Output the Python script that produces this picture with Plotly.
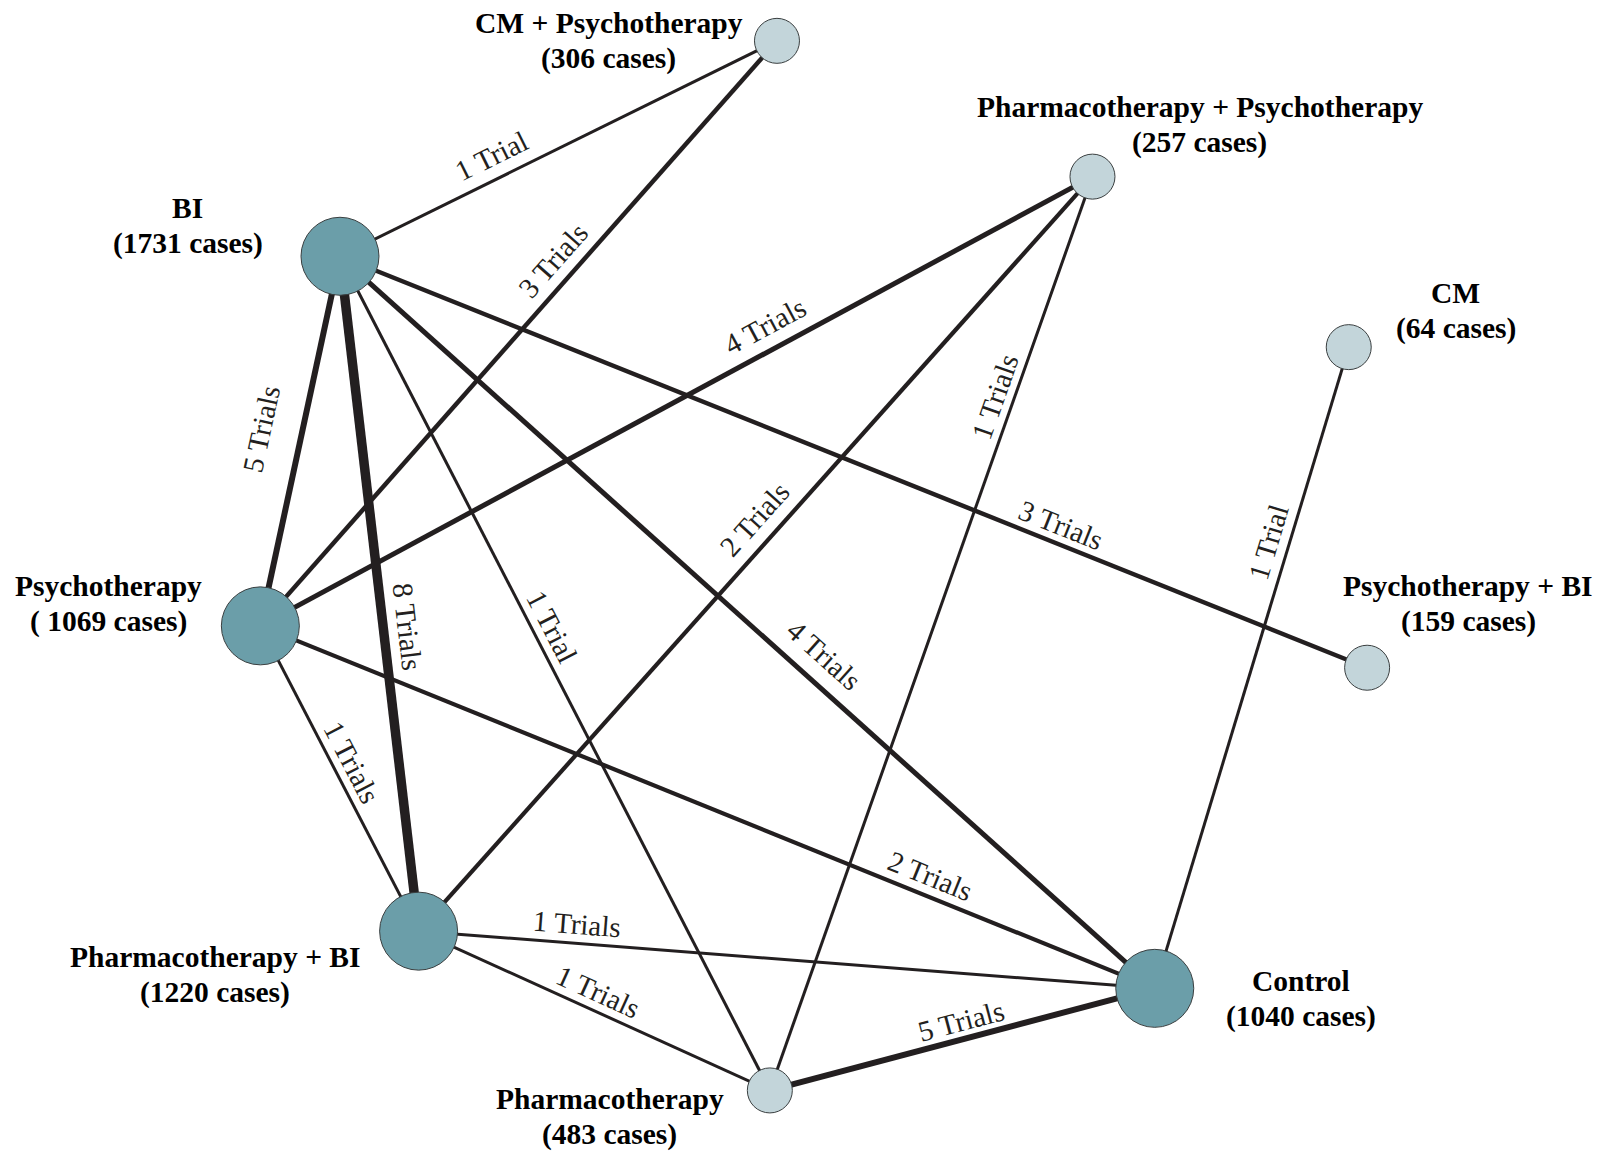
import math
import plotly.graph_objects as go

# ---------------- data ----------------
treatments = ["BI", "Psychotherapy", "Pharmacotherapy + BI", "Pharmacotherapy", "Control",
              "CM + Psychotherapy", "Pharmacotherapy + Psychotherapy", "CM", "Psychotherapy + BI"]
cases = [1731, 1069, 1220, 483, 1040, 306, 257, 64, 159]
case_labels = ["(1731 cases)", "( 1069 cases)", "(1220 cases)", "(483 cases)", "(1040 cases)",
               "(306 cases)", "(257 cases)", "(64 cases)", "(159 cases)"]

edge_from = ["BI", "Psychotherapy", "Psychotherapy", "BI", "BI", "BI",
             "Pharmacotherapy", "Pharmacotherapy + BI", "BI", "Control", "BI",
             "Psychotherapy", "Psychotherapy", "Pharmacotherapy + BI", "Pharmacotherapy + BI",
             "Pharmacotherapy"]
edge_to = ["CM + Psychotherapy", "CM + Psychotherapy", "Pharmacotherapy + Psychotherapy",
           "Psychotherapy", "Pharmacotherapy + BI", "Pharmacotherapy",
           "Pharmacotherapy + Psychotherapy", "Pharmacotherapy + Psychotherapy",
           "Psychotherapy + BI", "CM", "Control",
           "Pharmacotherapy + BI", "Control", "Control", "Pharmacotherapy",
           "Control"]
trials = [1, 3, 4, 5, 8, 1, 1, 2, 3, 1, 4, 1, 2, 1, 1, 5]
trial_labels = ["1 Trial", "3 Trials", "4 Trials", "5 Trials", "8 Trials", "1 Trial",
                "1 Trials", "2 Trials", "3 Trials", "1 Trial", "4 Trials",
                "1 Trials", "2 Trials", "1 Trials", "1 Trials", "5 Trials"]

# ---------------- layout (network positions, styles) ----------------
W, H = 1602, 1153
S = 1.021                # pixels per layout unit
node_pos = {
    "BI": (333, 251),
    "Psychotherapy": (255, 613),
    "Pharmacotherapy + BI": (410, 912),
    "Pharmacotherapy": (754, 1068),
    "Control": (1131, 968),
    "CM + Psychotherapy": (761, 40),
    "Pharmacotherapy + Psychotherapy": (1070, 173),
    "CM": (1321, 340),
    "Psychotherapy + BI": (1339, 654),
}
# offset of the two-line node label block from the node centre
label_off = {
    "BI": (-149, -30),
    "Psychotherapy": (-149, -22),
    "Pharmacotherapy + BI": (-199, 43),
    "Pharmacotherapy": (-157, 26),
    "Control": (143, 10),
    "CM + Psychotherapy": (-165, 0),
    "Pharmacotherapy + Psychotherapy": (105, -51),
    "CM": (105, -36),
    "Psychotherapy + BI": (99, -63),
}
# label placement along each edge: fraction t and perpendicular offset d
label_t = [0.37, 0.60, 0.62, 0.49, 0.553, 0.455, 0.753, 0.525, 0.695, 0.687, 0.572,
           0.474, 0.741, 0.213, 0.49, 0.51]
label_d = [23, 22, 24, 40, 24, 18, 18, 23, 18, 20, 26, 18, 19, 19, 18, 18]

width_by_trials = {1: 3.0, 2: 4.2, 3: 4.5, 4: 5.0, 5: 6.0, 8: 9.5}
EDGE_COLOR = "#231F20"
BIG_COLOR = "#6B9EA9"
SMALL_COLOR = "#C3D5DA"
SERIF = "Liberation Serif, Times New Roman, serif"

fig = go.Figure()

# edges
for f, t_, n in zip(edge_from, edge_to, trials):
    (x0, y0), (x1, y1) = node_pos[f], node_pos[t_]
    fig.add_trace(go.Scatter(x=[x0, x1], y=[y0, y1], mode="lines",
                             line=dict(color=EDGE_COLOR, width=width_by_trials[n]),
                             hoverinfo="skip", showlegend=False))

# nodes
nx = [node_pos[n][0] for n in treatments]
ny = [node_pos[n][1] for n in treatments]
sizes = [78 if c >= 1000 else 45 for c in cases]
colors = [BIG_COLOR if c >= 1000 else SMALL_COLOR for c in cases]
fig.add_trace(go.Scatter(x=nx, y=ny, mode="markers",
                         marker=dict(size=sizes, color=colors, opacity=1,
                                     line=dict(color="#3A3F40", width=1)),
                         text=treatments, hoverinfo="text", showlegend=False))

annotations = []
# edge labels
for f, t_, lab, tt, dd in zip(edge_from, edge_to, trial_labels, label_t, label_d):
    (x0, y0), (x1, y1) = node_pos[f], node_pos[t_]
    dx, dy = x1 - x0, y1 - y0
    ang = math.degrees(math.atan2(dy, dx))
    if ang > 90:
        ang -= 180
    elif ang <= -90:
        ang += 180
    r = math.radians(ang)
    ux, uy = math.sin(r), -math.cos(r)
    lx = x0 + tt * dx + dd * ux
    ly = y0 + tt * dy + dd * uy
    annotations.append(dict(x=lx, y=ly, xref="x", yref="y", text=lab, showarrow=False,
                            textangle=ang, xanchor="center", yanchor="middle",
                            font=dict(family=SERIF, size=29, color=EDGE_COLOR)))

# node labels
for name, cl in zip(treatments, case_labels):
    x, y = node_pos[name]
    ox, oy = label_off[name]
    for txt, sh in ((name, -17.3), (cl, 17.3)):
        annotations.append(dict(x=x + ox, y=y + oy + sh, xref="x", yref="y",
                                text="<b>%s</b>" % txt, showarrow=False,
                                xanchor="center", yanchor="middle",
                                font=dict(family=SERIF, size=29.5, color="#000000")))

fig.update_layout(
    width=W, height=H,
    margin=dict(l=0, r=0, t=0, b=0),
    paper_bgcolor="white", plot_bgcolor="white",
    xaxis=dict(range=[0, W / S], visible=False, fixedrange=True),
    yaxis=dict(range=[H / S, 0], visible=False, fixedrange=True),
    annotations=annotations,
    showlegend=False,
)

# remove the page's default body margin so the figure fills the window exactly
fig.write_html("out.html",
               config={"displayModeBar": False},
               post_script="document.body.style.margin='0';"
                           "document.body.style.overflow='hidden';")
